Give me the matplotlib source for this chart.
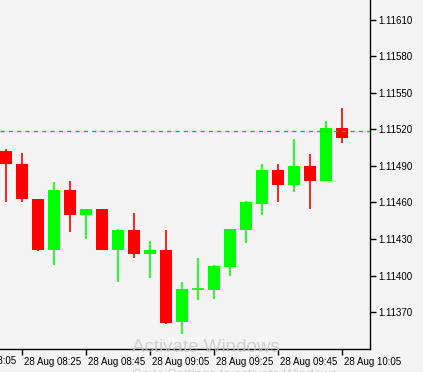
import matplotlib
matplotlib.use("Agg")
import matplotlib.pyplot as plt
import matplotlib.transforms as mtransforms

plt.rcParams["font.family"] = ["Liberation Sans", "DejaVu Sans"]

# 5-minute EURUSD candles, 28 Aug 08:20 .. 10:05
opens  = [1.11502, 1.11492, 1.11463, 1.11421, 1.11470, 1.11450, 1.11455, 1.11421,
          1.11437, 1.11418, 1.11421, 1.11362, 1.11389, 1.11388, 1.11407, 1.11437,
          1.11459, 1.11487, 1.11474, 1.11490, 1.11478, 1.11521]
highs  = [1.11504, 1.11501, 1.11463, 1.11477, 1.11478, 1.11455, 1.11455, 1.11438,
          1.11451, 1.11428, 1.11437, 1.11395, 1.11414, 1.11409, 1.11438, 1.11461,
          1.11492, 1.11492, 1.11512, 1.11500, 1.11527, 1.11538]
lows   = [1.11460, 1.11460, 1.11420, 1.11409, 1.11436, 1.11430, 1.11421, 1.11395,
          1.11414, 1.11398, 1.11360, 1.11352, 1.11380, 1.11381, 1.11400, 1.11427,
          1.11450, 1.11460, 1.11469, 1.11455, 1.11478, 1.11509]
closes = [1.11492, 1.11463, 1.11421, 1.11470, 1.11450, 1.11455, 1.11421, 1.11437,
          1.11418, 1.11421, 1.11361, 1.11389, 1.11389, 1.11408, 1.11438, 1.11460,
          1.11487, 1.11474, 1.11490, 1.11478, 1.11521, 1.11513]
bid = 1.11519

time_ticks = [1, 5, 9, 13, 17, 21]
time_labels = ["28 Aug 08:25", "28 Aug 08:45", "28 Aug 09:05",
               "28 Aug 09:25", "28 Aug 09:45", "28 Aug 10:05"]
price_ticks = [1.11370, 1.11400, 1.11430, 1.11460, 1.11490,
               1.11520, 1.11550, 1.11580, 1.11610]

bg = "#f4f4f4"
up_col = "#00ff00"
dn_col = "#ff0000"

fig = plt.figure(figsize=(4.23, 3.72), dpi=100, facecolor=bg)
ax = fig.add_axes([0, 23 / 372, 370 / 423, 349 / 372], facecolor=bg)

w = 0.69
for i in range(len(opens)):
    o, h, l, c = opens[i], highs[i], lows[i], closes[i]
    col = up_col if c >= o else dn_col
    ax.vlines(i, l, h, color=col, linewidth=1.2)
    if abs(c - o) < 1e-7:
        ax.hlines(o, i - w / 2, i + w / 2, color=col, linewidth=1.2)
    else:
        ax.bar(i, abs(c - o), bottom=min(o, c), width=w, color=col, linewidth=0)

ax.axhline(bid, color="#00cc00", linewidth=1, linestyle=(0, (3, 3)))

ax.set_xlim(-0.375, 22.75)
ax.set_ylim(1.113396, 1.116264)

for s in ["left", "top"]:
    ax.spines[s].set_visible(False)
for s in ["right", "bottom"]:
    ax.spines[s].set_color("black")
    ax.spines[s].set_linewidth(1)

ax.yaxis.tick_right()
ax.set_yticks(price_ticks)
ax.set_yticklabels([f"{p:.5f}" for p in price_ticks])
ax.set_xticks(time_ticks)
ax.set_xticklabels(time_labels)
ax.tick_params(axis="both", direction="out", length=4, width=1, color="black",
               labelsize=7, pad=2)
off = mtransforms.ScaledTranslation(1.5 / 100, 0, fig.dpi_scale_trans)
for lbl in ax.get_xticklabels():
    lbl.set_horizontalalignment("left")
    lbl.set_transform(lbl.get_transform() + off)

# label of the 08:05 tick, mostly cut off at the left edge
ax.text(-3, -0.021, "28 Aug 08:05", transform=ax.get_xaxis_transform() + off,
        ha="left", va="top", fontsize=7, clip_on=False)

# Windows watermark
fig.text(132 / 423, 1 - 348 / 372, "Activate Windows", fontsize=13.5,
         color="#c8c8c8", alpha=0.8, ha="left", va="center")
fig.text(132 / 423, 1 - 375 / 372, "Go to Settings to activate Windows.",
         fontsize=9.5, color="#c8c8c8", alpha=0.8, ha="left", va="center")

fig.savefig("out.png", dpi=100, facecolor=bg)
